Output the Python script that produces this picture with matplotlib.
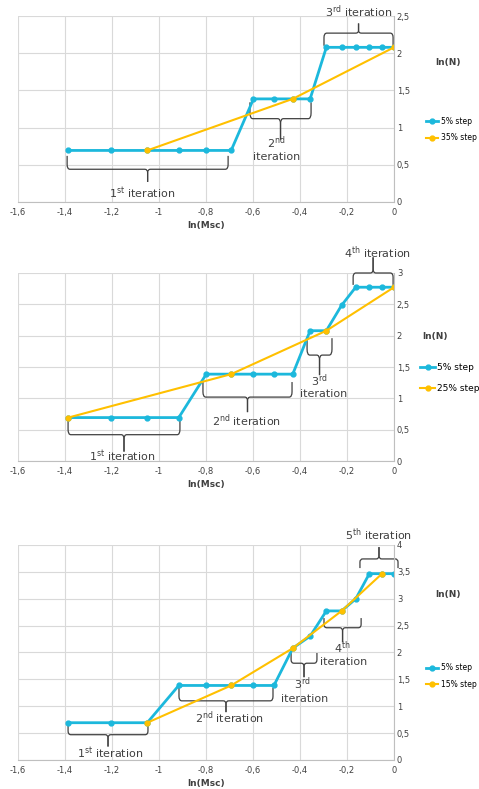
import matplotlib.pyplot as plt
from matplotlib.path import Path
from matplotlib.patches import PathPatch

# ln(Msc) for the 5% step series (Msc = 0.25 ... 1.00)
ln_msc_5 = [-1.386, -1.204, -1.050, -0.916, -0.799, -0.693, -0.598, -0.511,
            -0.431, -0.357, -0.288, -0.223, -0.163, -0.105, -0.051, 0.0]

blue_1 = [0.693, 0.693, 0.693, 0.693, 0.693, 0.693, 1.386, 1.386,
          1.386, 1.386, 2.079, 2.079, 2.079, 2.079, 2.079, 2.079]
blue_2 = [0.693, 0.693, 0.693, 0.693, 1.386, 1.386, 1.386, 1.386,
          1.386, 2.079, 2.079, 2.485, 2.773, 2.773, 2.773, 2.773]
blue_3 = [0.693, 0.693, 0.693, 1.386, 1.386, 1.386, 1.386, 1.386,
          2.079, 2.303, 2.773, 2.773, 2.996, 3.466, 3.466, 3.466]

orange_x1 = [-1.050, -0.431, 0.0]
orange_y1 = [0.693, 1.386, 2.079]
orange_x2 = [-1.386, -0.693, -0.288, 0.0]
orange_y2 = [0.693, 1.386, 2.079, 2.773]
orange_x3 = [-1.050, -0.693, -0.431, -0.223, -0.051]
orange_y3 = [0.693, 1.386, 2.079, 2.773, 3.466]

orange_labels = ["35% step", "25% step", "15% step"]
y_max = [2.5, 3, 4]

# braces: (x0, x1, y_end, y_bar, y_tip)
braces = [
    [(-1.391, -0.706, 0.62, 0.44, 0.27), (-0.613, -0.353, 1.34, 1.12, 0.84),
     (-0.298, -0.004, 2.10, 2.27, 2.40)],
    [(-1.387, -0.911, 0.66, 0.42, 0.15), (-0.813, -0.434, 1.26, 1.02, 0.78),
     (-0.370, -0.264, 1.96, 1.69, 1.37), (-0.174, -0.004, 2.81, 3.0, 3.25)],
    [(-1.387, -1.047, 0.67, 0.47, 0.25), (-0.915, -0.515, 1.34, 1.10, 0.89),
     (-0.438, -0.328, 1.99, 1.80, 1.54), (-0.298, -0.140, 2.64, 2.46, 2.19),
     (-0.145, 0.017, 3.57, 3.74, 3.96)],
]
# labels: (x, y, text)
labels = [
    [(-1.07, 0.12, "1$^{\\mathrm{st}}$ iteration"), (-0.50, 0.80, "2$^{\\mathrm{nd}}$"),
     (-0.50, 0.60, "iteration"), (-0.15, 2.56, "3$^{\\mathrm{rd}}$ iteration")],
    [(-1.157, 0.08, "1$^{\\mathrm{st}}$ iteration"), (-0.626, 0.64, "2$^{\\mathrm{nd}}$ iteration"),
     (-0.319, 1.28, "3$^{\\mathrm{rd}}$"), (-0.30, 1.07, "iteration"),
     (-0.07, 3.32, "4$^{\\mathrm{th}}$ iteration")],
    [(-1.209, 0.13, "1$^{\\mathrm{st}}$ iteration"), (-0.702, 0.78, "2$^{\\mathrm{nd}}$ iteration"),
     (-0.391, 1.42, "3$^{\\mathrm{rd}}$"), (-0.38, 1.14, "iteration"),
     (-0.221, 2.08, "4$^{\\mathrm{th}}$"), (-0.215, 1.83, "iteration"),
     (-0.064, 4.19, "5$^{\\mathrm{th}}$ iteration")],
]

BLUE = "#1cb8dc"
ORANGE = "#ffc000"
TXT = "#404040"


def draw_brace(ax, x0, x1, y_end, y_bar, y_tip):
    xc = (x0 + x1) / 2
    w = 0.012
    h = (y_bar - y_end) * 0.35
    t = (y_tip - y_bar) * 0.25
    for xe, s in ((x0, 1), (x1, -1)):
        verts = [(xe, y_end), (xe, y_bar - h), (xe, y_bar), (xe + s * w, y_bar),
                 (xc - s * w, y_bar), (xc, y_bar), (xc, y_bar + t), (xc, y_tip)]
        codes = [Path.MOVETO, Path.LINETO, Path.CURVE3, Path.CURVE3,
                 Path.LINETO, Path.CURVE3, Path.CURVE3, Path.LINETO]
        ax.add_patch(PathPatch(Path(verts, codes), fill=False, ec=TXT, lw=0.9,
                               clip_on=False))


fig = plt.figure(figsize=(4.79, 7.89), dpi=100)
rects = [[0.0376, 0.744, 0.785, 0.2357],
         [0.0376, 0.4157, 0.785, 0.2383],
         [0.0376, 0.0368, 0.785, 0.2725]]
blues = [blue_1, blue_2, blue_3]
oranges = [(orange_x1, orange_y1), (orange_x2, orange_y2), (orange_x3, orange_y3)]
lnn_pos = [(1.144, 0.75), (1.109, 0.66), (1.144, 0.77)]
leg_pos = [(1.085, 0.39), (1.07, 0.44), (1.085, 0.39)]
leg_font = [5.5, 6.5, 5.5]
leg_space = [1.0, 1.3, 1.0]

for i in range(3):
    ax = fig.add_axes(rects[i])
    ax.plot(ln_msc_5, blues[i], color=BLUE, lw=2, marker="o", ms=3.5, label="5% step")
    ax.plot(oranges[i][0], oranges[i][1], color=ORANGE, lw=1.5, marker="o", ms=3.5,
            label=orange_labels[i])
    ax.set_xlim(-1.6, 0)
    ax.set_ylim(0, y_max[i])
    ax.set_xticks([-1.6, -1.4, -1.2, -1, -0.8, -0.6, -0.4, -0.2, 0])
    ax.set_xticklabels(["-1,6", "-1,4", "-1,2", "-1", "-0,8", "-0,6", "-0,4", "-0,2", "0"])
    yt = [k * 0.5 for k in range(int(y_max[i] * 2) + 1)]
    ax.set_yticks(yt)
    ax.set_yticklabels([f"{v:g}".replace(".", ",") for v in yt])
    ax.yaxis.tick_right()
    ax.tick_params(length=0, labelsize=6, colors=TXT)
    ax.tick_params(axis="y", pad=2)
    ax.tick_params(axis="x", pad=4)
    ax.grid(True, color="#d9d9d9", lw=0.8)
    ax.set_axisbelow(True)
    for side in ("top", "left"):
        ax.spines[side].set_visible(False)
    for side in ("bottom", "right"):
        ax.spines[side].set_color("#bfbfbf")
        ax.spines[side].set_linewidth(0.8)
    ax.set_xlabel("ln(Msc)", fontsize=6.5, fontweight="bold", color=TXT, labelpad=3)
    ax.text(lnn_pos[i][0], lnn_pos[i][1], "ln(N)", transform=ax.transAxes, fontsize=6.5,
            fontweight="bold", color=TXT, ha="center", va="center")
    ax.legend(loc="center left", bbox_to_anchor=leg_pos[i], frameon=False,
              fontsize=leg_font[i], handlelength=1.6, handletextpad=0.3,
              labelspacing=leg_space[i], borderaxespad=0, borderpad=0)

    for b in braces[i]:
        draw_brace(ax, *b)
    for x, y, s in labels[i]:
        ax.text(x, y, s, fontsize=8, color=TXT, ha="center", va="center")

fig.savefig("out.png", dpi=100)
